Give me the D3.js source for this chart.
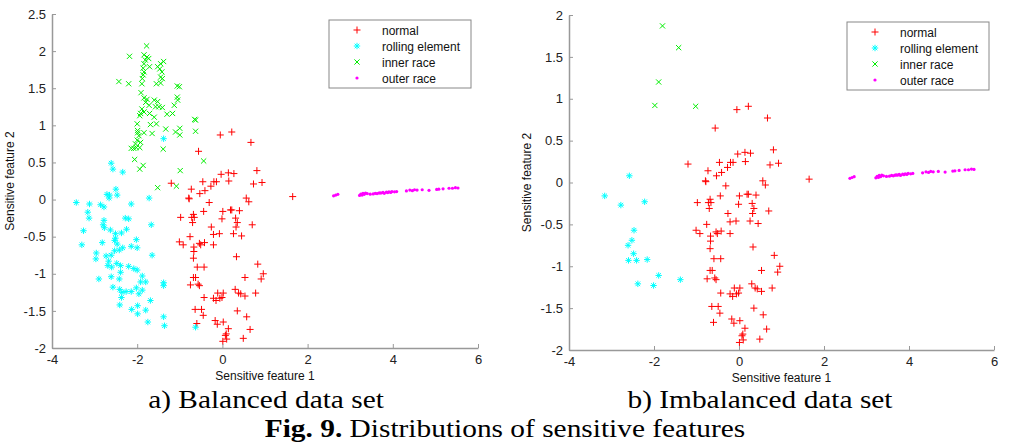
<!DOCTYPE html>
<html>
<head>
<meta charset="utf-8">
<title>Distributions of sensitive features</title>
<script src="https://d3js.org/d3.v7.min.js"></script>
<style>
  body { margin: 0; background: #fff; }
  .tick text { font-family: "Liberation Sans", Arial, sans-serif; font-size: 13px; fill: #222; }
  .axis path, .axis line { stroke: #999; }
  .axis path { stroke-width: 1.5; }
  .lbl { font-family: "Liberation Sans", Arial, sans-serif; font-size: 12px; fill: #111; }
  .cap { font-family: "Liberation Serif", "Times New Roman", serif; font-size: 26px; fill: #000; }
</style>
</head>
<body>
<script>
// normal condition, same samples in both panels
const normal = [
  [-0.05,0.87],[0.22,0.91],[0.67,0.77],[-0.56,0.65],[0.81,0.39],[-0.03,0.34],[0.14,0.36],[0.27,0.35],
  [0.15,0.25],[-1.2,0.22],[-0.46,0.24],[-0.2,0.24],[-0.14,0.24],[0.73,0.21],[0.93,0.23],[-0.73,0.14],
  [-0.27,0.18],[-0.41,0.12],[-0.53,0.08],[-0.79,0.02],[-0.78,0.01],[0.56,0.02],[0.62,-0.03],[-0.31,-0.04],
  [0.22,-0.14],[0.19,-0.14],[0.4,-0.15],[0.01,-0.16],[-0.44,-0.16],[-0.98,-0.24],[-0.68,-0.2],[-0.66,-0.24],
  [-0.72,-0.24],[-0.01,-0.26],[0.31,-0.25],[-0.7,-0.31],[0.35,-0.31],[0.7,-0.34],[0.32,-0.37],[-0.26,-0.37],
  [-0.21,-0.47],[-0.07,-0.46],[0.26,-0.46],[0.45,-0.49],[-0.76,-0.5],[-1.01,-0.57],[-0.92,-0.61],[-0.54,-0.59],
  [-0.51,-0.61],[-0.42,-0.58],[-0.21,-0.61],[-0.67,-0.64],[-0.67,-0.7],[-0.68,-0.79],[0.33,-0.77],[0.83,-0.87],
  [-0.59,-0.91],[-0.43,-0.91],[0.96,-1.0],[0.91,-1.07],[0.53,-1.05],[-0.68,-1.05],[-0.63,-1.05],[-0.75,-1.15],
  [-0.57,-1.14],[-0.54,-1.16],[0.3,-1.21],[0.38,-1.26],[0.43,-1.27],[0.53,-1.3],[0.78,-1.26],[-0.11,-1.26],
  [0.02,-1.26],[-0.21,-1.33],[-0.15,-1.36],[-0.06,-1.33],[-0.01,-1.32],[-0.43,-1.32],[-0.64,-1.48],[-0.49,-1.48],
  [-0.45,-1.56],[0.35,-1.5],[0.57,-1.58],[-0.6,-1.67],[-0.17,-1.63],[-0.12,-1.68],[0.02,-1.65],[0.14,-1.74],
  [0.09,-1.81],[0.07,-1.83],[0.65,-1.75],[0.49,-1.87],[0.1,-1.88],[0.01,-1.91],[1.65,0.04]
];

// outer race fault, same samples in both panels
const outerRace = [
  [2.61,0.05],[2.66,0.06],[2.71,0.07],[3.22,0.056],[3.25,0.072],[3.28,0.06],[3.3,0.084],[3.33,0.07],
  [3.36,0.088],[3.4,0.08],[3.47,0.072],[3.54,0.076],[3.59,0.084],[3.63,0.08],[3.67,0.088],[3.7,0.09],
  [3.73,0.088],[3.77,0.096],[3.8,0.084],[3.85,0.1],[3.88,0.094],[3.91,0.104],[3.95,0.096],[3.98,0.108],
  [4.04,0.104],[4.09,0.108],[4.32,0.116],[4.4,0.128],[4.46,0.12],[4.51,0.132],[4.57,0.128],[4.69,0.132],
  [4.85,0.124],[5.03,0.136],[5.08,0.14],[5.18,0.144],[5.32,0.152],[5.4,0.152],[5.47,0.16],[5.53,0.156]
];

// rolling element fault, balanced set
const rollingBal = [
  [-2.61,0.49],[-2.57,0.41],[-2.34,0.37],[-2.5,0.14],[-2.71,0.07],[-2.65,0.06],[-2.66,0.02],[-2.47,0.06],
  [-1.72,0.02],[-3.43,-0.04],[-3.12,-0.06],[-2.86,-0.07],[-2.78,-0.1],[-2.14,-0.06],[-3.16,-0.17],[-3.13,-0.25],
  [-2.78,-0.28],[-2.28,-0.25],[-2.2,-0.26],[-2.8,-0.34],[-2.77,-0.38],[-1.67,-0.34],[-2.63,-0.41],[-3.26,-0.42],
  [-2.51,-0.46],[-2.37,-0.45],[-2.25,-0.4],[-2.51,-0.52],[-2.53,-0.55],[-2.02,-0.54],[-2.82,-0.58],[-2.47,-0.6],
  [-3.3,-0.61],[-2.34,-0.65],[-2.14,-0.63],[-2.0,-0.65],[-2.96,-0.72],[-2.97,-0.8],[-2.73,-0.76],[-2.61,-0.75],
  [-2.53,-0.69],[-2.42,-0.68],[-1.65,-0.75],[-2.69,-0.89],[-2.6,-0.91],[-2.48,-0.86],[-2.39,-0.89],[-2.39,-0.98],
  [-2.2,-0.9],[-2.08,-0.93],[-2.0,-0.95],[-2.61,-1.04],[-2.42,-1.07],[-2.9,-1.07],[-1.88,-1.03],[-1.92,-1.11],
  [-1.8,-1.11],[-1.38,-1.12],[-1.38,-1.16],[-2.57,-1.18],[-2.41,-1.21],[-2.36,-1.25],[-2.26,-1.24],[-2.14,-1.24],
  [-2.02,-1.19],[-1.96,-1.27],[-1.88,-1.22],[-2.37,-1.32],[-1.69,-1.36],[-2.41,-1.42],[-1.99,-1.43],[-1.99,-1.54],
  [-2.13,-1.48],[-1.8,-1.49],[-1.38,-1.58],[-1.75,-1.65],[-1.36,-1.7],[-0.63,-1.72],[-2.67,-0.83],[-1.38,0.82]
];

// inner race fault, balanced set
const innerBal = [
  [-1.78,2.07],[-2.18,1.93],[-1.84,1.95],[-1.77,1.92],[-1.81,1.88],[-1.73,1.9],[-1.38,1.86],[-1.45,1.83],
  [-1.84,1.83],[-1.86,1.77],[-1.71,1.79],[-1.52,1.79],[-1.47,1.76],[-1.84,1.72],[-1.42,1.72],[-1.86,1.68],
  [-1.45,1.65],[-1.88,1.63],[-1.41,1.63],[-2.43,1.59],[-2.2,1.56],[-1.89,1.56],[-1.55,1.56],[-1.45,1.57],
  [-1.06,1.53],[-1.01,1.52],[-1.91,1.44],[-1.06,1.38],[-1.84,1.37],[-1.77,1.35],[-1.05,1.34],[-1.6,1.34],
  [-1.52,1.32],[-1.8,1.31],[-1.72,1.27],[-1.57,1.25],[-1.49,1.25],[-1.13,1.27],[-1.41,1.24],[-1.89,1.22],
  [-1.84,1.18],[-1.92,1.16],[-1.71,1.16],[-1.94,1.13],[-1.6,1.11],[-1.3,1.15],[-1.17,1.16],[-2.0,1.02],
  [-1.69,1.01],[-1.55,1.02],[-0.63,1.07],[-0.65,1.08],[-1.99,0.93],[-1.99,0.9],[-1.84,0.9],[-1.65,0.89],
  [-1.33,0.95],[-1.1,0.91],[-1.0,0.96],[-1.0,0.87],[-0.63,0.92],[-2.0,0.8],[-2.04,0.75],[-2.08,0.69],
  [-2.02,0.7],[-2.14,0.69],[-1.39,0.68],[-1.94,0.7],[-2.06,0.54],[-0.44,0.52],[-1.86,0.46],[-1.94,0.41],
  [-0.99,0.39],[-1.08,0.18],[-1.52,0.16],[-1.92,0.77],[-1.96,0.86]
];

// imbalanced set: only a few rolling element / inner race samples
const rollingImb = [
  [-2.58,0.08],[-3.16,-0.16],[-2.78,-0.27],[-2.22,-0.23],[-2.47,-0.57],[-2.52,-0.69],[-2.61,-0.75],
  [-2.48,-0.85],[-2.6,-0.93],[-2.41,-0.93],[-2.16,-0.92],[-1.89,-1.11],[-1.38,-1.16],[-2.38,-1.21],[-2.01,-1.23]
];
const innerImb = [[-1.8,1.87],[-1.42,1.61],[-1.89,1.2],[-1.98,0.92],[-1.02,0.91]];

const xTicks = [-4, -2, 0, 2, 4, 6];
const yTicksA = [-2, -1.5, -1, -0.5, 0, 0.5, 1, 1.5, 2, 2.5];
const yTicksB = [-2, -1.5, -1, -0.5, 0, 0.5, 1, 1.5, 2];
const legendNames = ["normal", "rolling element", "inner race", "outer race"];

const W = 1009, H = 443;
const svg = d3.select("body").append("svg")
  .attr("width", W).attr("height", H)
  .style("display", "block");
svg.append("rect").attr("width", W).attr("height", H).attr("fill", "#fff");

// marker shapes, a la matlab
function marker(sel, kind) {
  if (kind == "plus") {
    sel.append("path").attr("d", "M-3.5,0H3.5M0,-3.5V3.5").attr("stroke", "#ff0000").attr("fill", "none");
  } else if (kind == "star") {
    sel.append("path").attr("d", "M-3.2,0H3.2M0,-3.2V3.2M-2.3,-2.3L2.3,2.3M-2.3,2.3L2.3,-2.3")
      .attr("stroke", "#00ffff").attr("fill", "none");
  } else if (kind == "cross") {
    sel.append("path").attr("d", "M-2.6,-2.6L2.6,2.6M-2.6,2.6L2.6,-2.6").attr("stroke", "#00ee00").attr("fill", "none");
  } else {
    sel.append("circle").attr("r", 1.6).attr("fill", "#ff00ff");
  }
}

function panel(p) {
  const x = d3.scaleLinear().domain([-4, 6]).range([p.left, p.right]);
  const y = d3.scaleLinear().domain(p.yDomain).range([p.bottom, p.top]);
  const g = svg.append("g");

  const series = [
    {data: normal, kind: "plus"},
    {data: p.rolling, kind: "star"},
    {data: p.inner, kind: "cross"},
    {data: outerRace, kind: "dot"}
  ];
  series.forEach(s => {
    g.append("g").selectAll("g")
      .data(s.data)
      .enter().append("g")
      .attr("transform", d => "translate(" + x(d[0]) + "," + y(d[1]) + ")")
      .each(function() { marker(d3.select(this), s.kind); });
  });

  // plain hyphen minus like matlab
  const fmt = d => String(d);
  g.append("g").attr("class", "axis")
    .attr("transform", "translate(0," + p.bottom + ")")
    .call(d3.axisBottom(x).tickValues(xTicks).tickFormat(fmt).tickSizeInner(-4).tickSizeOuter(0).tickPadding(7));
  g.append("g").attr("class", "axis")
    .attr("transform", "translate(" + p.left + ",0)")
    .call(d3.axisLeft(y).tickValues(p.yTicks).tickFormat(fmt).tickSizeInner(-4).tickSizeOuter(0).tickPadding(6));
  g.selectAll(".axis .domain").attr("stroke", "#999");

  g.append("text").attr("class", "lbl")
    .attr("x", (p.left + p.right) / 2).attr("y", p.bottom + 32)
    .attr("text-anchor", "middle").text("Sensitive feature 1");
  g.append("text").attr("class", "lbl")
    .attr("transform", "translate(" + (p.left - 38) + "," + ((p.top + p.bottom) / 2) + ") rotate(-90)")
    .attr("text-anchor", "middle").text("Sensitive feature 2");

  // legend
  const lg = g.append("g").attr("transform", "translate(" + p.legX + "," + p.legY + ")");
  lg.append("rect").attr("width", 142).attr("height", 68)
    .attr("fill", "#fff").attr("stroke", "#888");
  const kinds = ["plus", "star", "cross", "dot"];
  legendNames.forEach((name, i) => {
    const row = lg.append("g").attr("transform", "translate(0," + (10 + i * 16) + ")");
    marker(row.append("g").attr("transform", "translate(28,0)"), kinds[i]);
    row.append("text").attr("class", "lbl").attr("x", 53).attr("y", 4.5).text(name);
  });

  // caption is a bit narrow-tall in the original, stretch horizontally
  svg.append("g").attr("transform", "translate(" + p.capX + ",408) scale(1.13,1)")
    .append("text").attr("class", "cap")
    .attr("text-anchor", "middle").text(p.caption);
}

panel({left: 52, right: 478, top: 14, bottom: 348, yDomain: [-2, 2.5], yTicks: yTicksA,
       rolling: rollingBal, inner: innerBal, legX: 329, legY: 20, capX: 266, caption: "a) Balanced data set"});
panel({left: 569, right: 994, top: 15, bottom: 350, yDomain: [-2, 2], yTicks: yTicksB,
       rolling: rollingImb, inner: innerImb, legX: 847, legY: 22, capX: 760, caption: "b) Imbalanced data set"});

const fig = svg.append("g").attr("transform", "translate(505,437) scale(1.13,1)")
  .append("text").attr("class", "cap").attr("text-anchor", "middle");
fig.append("tspan").attr("font-weight", "bold").text("Fig. 9.");
fig.append("tspan").text(" Distributions of sensitive features");
</script>
</body>
</html>
